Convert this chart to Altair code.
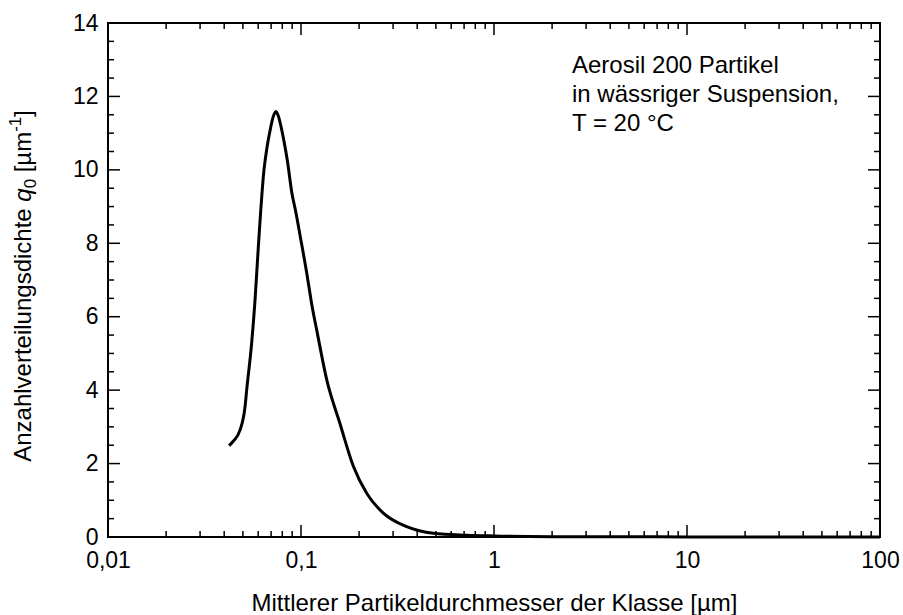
import altair as alt
import pandas as pd

# Number-weighted size distribution density q0 of Aerosil 200 particles
diameter_um = [0.0424, 0.0444, 0.0483, 0.0513, 0.0523, 0.0555, 0.0578, 0.0601,
               0.0643, 0.0666, 0.0690, 0.0718, 0.0742, 0.0765, 0.0790, 0.0815,
               0.0850, 0.0895, 0.0940, 0.0990, 0.107, 0.114, 0.121, 0.136,
               0.159, 0.187, 0.219, 0.267, 0.353, 0.485, 0.722, 1.0, 2.0,
               5.0, 10.0, 30.0, 100.0]
q0_density = [2.49, 2.60, 2.91, 3.55, 4.00, 5.28, 6.46, 7.90,
              10.00, 10.60, 11.05, 11.45, 11.59, 11.45, 11.15, 10.80,
              10.25, 9.40, 8.85, 8.20, 7.20, 6.30, 5.60, 4.28,
              3.10, 1.92, 1.19, 0.65, 0.28, 0.10, 0.05, 0.03, 0.01,
              0.005, 0.003, 0.001, 0.0]

# Tick positions (inward ticks on all four sides)
x_major = [0.01, 0.1, 1, 10, 100]
x_minor = [m * 10.0 ** e for e in range(-2, 2) for m in range(2, 10)]
y_major = list(range(0, 15, 2))
y_minor = [v / 2 for v in range(0, 29) if v % 4 != 0]

x_title = "Mittlerer Partikeldurchmesser der Klasse [µm]"
note_lines = ["Aerosil 200 Partikel", "in wässriger Suspension,", "T = 20 °C"]
# y title pieces: text, font style, relative size, baseline shift (em, up),
# extra space after the piece (em)
y_title_parts = [
    ("Anzahlverteilungsdichte", "normal", 1.0, 0.0, 0.278),
    ("q", "italic", 1.0, 0.0, 0.0),
    ("0", "normal", 0.7, -0.2, 0.278),
    ("[µm", "normal", 1.0, 0.0, 0.0),
    ("-1", "normal", 0.7, 0.42, 0.0),
    ("]", "normal", 1.0, 0.0, 0.0),
]

FONT = "Liberation Sans"
FS_TICK = 23
FS_TEXT = 24
W, H = 772, 514
MAJOR, MINOR = 12, 6

# Arial / Liberation Sans advance widths (per 1000 em) for the title glyphs
ADV = {"A": 667, "a": 556, "c": 500, "d": 556, "e": 556, "g": 556, "h": 556,
       "i": 222, "l": 222, "m": 833, "n": 556, "q": 556, "r": 333, "s": 500,
       "t": 278, "u": 556, "v": 500, "z": 500, " ": 278, "0": 556,
       "1": 556, "-": 333, "[": 278, "]": 278, "µ": 576}


def text_width(s, size):
    return sum(ADV.get(ch, 556) for ch in s) / 1000.0 * size


xs = alt.Scale(type="log", domain=[0.01, 100], nice=False)
ys = alt.Scale(domain=[0, 14], nice=False)

x_axis = alt.Axis(values=x_major, format=".2~f",
                  labelExpr="replace(datum.label, '.', ',')",
                  ticks=False, domain=False, grid=False,
                  labelFont=FONT, labelFontSize=FS_TICK, labelColor="black",
                  labelPadding=12, labelFlush=False,
                  title=x_title, titleFont=FONT, titleFontSize=FS_TEXT,
                  titleFontWeight="normal", titleColor="black",
                  titlePadding=19)
y_axis = alt.Axis(values=y_major, ticks=False, domain=False, grid=False,
                  labelFont=FONT, labelFontSize=FS_TICK, labelColor="black",
                  labelPadding=10, labelFlush=False, title=None)

X = alt.X("d:Q", scale=xs, axis=x_axis)
Y = alt.Y("q:Q", scale=ys, axis=y_axis)

curve = alt.Chart(pd.DataFrame({"d": diameter_um, "q": q0_density})).mark_line(
    color="black", strokeWidth=3, interpolate="monotone").encode(x=X, y=Y)

layers = [curve]


def x_ticks(vals, length):
    df = pd.DataFrame({"d": vals})
    base = alt.Chart(df).mark_rule(color="black", strokeWidth=1.5)
    return [
        base.encode(x=X, y=alt.value(H), y2=alt.value(H - length)),
        base.encode(x=X, y=alt.value(0), y2=alt.value(length)),
    ]


def y_ticks(vals, length):
    df = pd.DataFrame({"q": vals})
    base = alt.Chart(df).mark_rule(color="black", strokeWidth=1.5)
    return [
        base.encode(y=Y, x=alt.value(0), x2=alt.value(length)),
        base.encode(y=Y, x=alt.value(W), x2=alt.value(W - length)),
    ]


layers += x_ticks(x_major, MAJOR) + x_ticks(x_minor, MINOR)
layers += y_ticks(y_major, MAJOR) + y_ticks(y_minor, MINOR)

# Rotated y-axis title assembled from pieces (italic q, sub/superscripts)
title_center_y = 263
title_base_x = -77
advances = [text_width(t, FS_TEXT * rel) + gap * FS_TEXT
            for t, _, rel, _, gap in y_title_parts]
pos = title_center_y + sum(advances) / 2
for (txt, style, rel, shift, _), adv in zip(y_title_parts, advances):
    piece = alt.Chart(pd.DataFrame({"t": [txt]})).mark_text(
        font=FONT, fontSize=FS_TEXT * rel, fontStyle=style, color="black",
        angle=270, align="left", baseline="alphabetic"
    ).encode(text="t:N", x=alt.value(title_base_x - shift * FS_TEXT),
             y=alt.value(pos))
    layers.append(piece)
    pos -= adv

note = alt.Chart(pd.DataFrame({"t": [note_lines]})).mark_text(
    font=FONT, fontSize=FS_TEXT, color="black", align="left",
    baseline="alphabetic", lineHeight=29
).encode(text="t", x=alt.value(464), y=alt.value(50))
layers.append(note)

chart = alt.layer(*layers).properties(
    width=W, height=H,
    autosize=alt.AutoSizeParams(type="none"),
    padding={"left": 108, "top": 23, "right": 23, "bottom": 78},
    background="white",
).configure_view(stroke="black", strokeWidth=2)

chart.save("out.html", embed_options={"renderer": "svg", "actions": False})
